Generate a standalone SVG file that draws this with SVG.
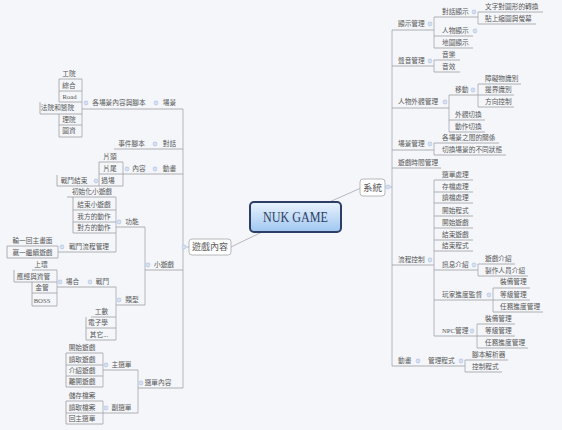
<svg xmlns="http://www.w3.org/2000/svg" width="562" height="430" viewBox="0 0 562 430">
<defs>
<linearGradient id="rg" x1="0" y1="0" x2="0" y2="1"><stop offset="0" stop-color="#eaf3fd"/><stop offset="1" stop-color="#9fc6f0"/></linearGradient>
<g id="mk"><circle r="2.4" fill="#c4d2ea"/><path d="M-1.3 0H1.3" stroke="#fff" stroke-width="0.7"/></g>
<style>
.t{font-family:"Liberation Serif","Noto Sans CJK TC","Noto Sans CJK SC",serif;font-size:6.7px;fill:#585858}
.m{text-anchor:middle}
.u{fill:none;stroke:#9e9e9e;stroke-width:0.8}
.c{fill:none;stroke:#a8a8b0;stroke-width:0.8}
.b{fill:#fff;stroke:#a8a8a8;stroke-width:0.8}
.bt{font-family:"Noto Sans CJK TC","Noto Sans CJK SC","Liberation Sans",sans-serif;fill:#595959;text-anchor:middle}
</style>
</defs>
<rect width="562" height="430" fill="#f4f6fa"/>

<g id="connectors" class="c">
<path d="M327 203L361 188"/>
<path d="M262 232L231 247"/>
<path d="M183 247H189"/>
<path d="M385 187H392"/>
<path d="M183 109V388"/>
<path d="M82 79V137"/>
<path d="M123 162V186"/>
<path d="M145 227V305"/>
<path d="M116 197V252"/>
<path d="M58 246V258"/>
<path d="M116 287V340"/>
<path d="M57 270V306"/>
<path d="M138 370V413"/>
<path d="M103 353V387"/>
<path d="M103 401V424"/>
<path d="M392 30V366"/>
<path d="M434 17V48"/>
<path d="M478 12V24"/>
<path d="M434 60V72"/>
<path d="M449 95V132"/>
<path d="M478 84V107"/>
<path d="M434 143V155"/>
<path d="M434 180V336"/>
<path d="M478 264V276"/>
<path d="M493 288V312"/>
<path d="M477 324V348"/>
<path d="M465 360V372"/>
</g>

<g id="root">
<rect x="250" y="202" width="91" height="30" rx="4" fill="url(#rg)" stroke="#2d3f66" stroke-width="2"/>
<text x="295.5" y="222" font-family="Liberation Serif,serif" font-size="15" fill="#2d3f66" text-anchor="middle" textLength="65" lengthAdjust="spacingAndGlyphs">NUK GAME</text>
</g>
<g id="youxineirong">
<rect class="b" x="189" y="239" width="42" height="16" rx="3"/>
<text class="bt" x="210" y="250.3" font-size="9">遊戲內容</text>
<use href="#mk" x="184" y="247"/>
</g>
<g id="xitong">
<rect class="b" x="360" y="179" width="25" height="17" rx="3"/>
<text class="bt" x="372.5" y="191.3" font-size="9.5">系統</text>
<use href="#mk" x="388" y="187"/>
</g>

<g id="n-changjing"><text class="t m" x="169.5" y="105.4">場景</text><path class="u" d="M159 109H183"/><use href="#mk" x="156" y="103"/></g>
<g id="n-gecj"><text class="t m" x="119" y="105.4">各場景內容與腳本</text><path class="u" d="M82 109H159"/><use href="#mk" x="86" y="103"/></g>
<g id="n-gongyuan"><text class="t m" x="69" y="76.4">工院</text><path class="u" d="M59 79H82"/></g>
<g id="n-zonghe"><text class="t m" x="69" y="88.4">綜合</text><path class="u" d="M59 79V91H82"/></g>
<g id="n-road"><text class="t m" x="69.5" y="99.4">Road</text><path class="u" d="M59 91V102H82"/></g>
<g id="n-fayuan"><text class="t m" x="57.5" y="110.4">法院和醫院</text><path class="u" d="M40 102V114H82"/></g>
<g id="n-liyuan"><text class="t m" x="69" y="122.4">理院</text><path class="u" d="M59 114V125H82"/></g>
<g id="n-tuzi"><text class="t m" x="69" y="133.4">圖資</text><path class="u" d="M59 125V137H82"/></g>

<g id="n-duihua"><text class="t m" x="169.5" y="146.4">對話</text><path class="u" d="M158 149H183"/><use href="#mk" x="155" y="144"/></g>
<g id="n-shijian"><text class="t m" x="131.5" y="146.4">事件腳本</text><path class="u" d="M114 149H158"/></g>
<g id="n-donghua"><text class="t m" x="169.5" y="171.4">動畫</text><path class="u" d="M158 174H183"/><use href="#mk" x="155" y="169"/></g>
<g id="n-neirong"><text class="t m" x="139" y="171.4">內容</text><path class="u" d="M123 174H158"/><use href="#mk" x="127" y="169"/></g>
<g id="n-piantou"><text class="t m" x="110" y="159.4">片頭</text><path class="u" d="M99 162H123"/></g>
<g id="n-pianwei"><text class="t m" x="110" y="171.4">片尾</text><path class="u" d="M99 162V174H123"/></g>
<g id="n-guochang"><text class="t m" x="108" y="183.4">過場</text><path class="u" d="M99 174V186H123"/><use href="#mk" x="96" y="181"/></g>
<g id="n-zhandoujieshu"><text class="t m" x="74" y="183.4">戰鬥結束</text><path class="u" d="M57 175V186H99"/></g>

<g id="n-xiaoyouxi"><text class="t m" x="164" y="267.4">小遊戲</text><path class="u" d="M145 270H183"/><use href="#mk" x="148" y="265"/></g>
<g id="n-gongneng"><text class="t m" x="132" y="224.4">功能</text><path class="u" d="M116 227H145"/><use href="#mk" x="119" y="222"/></g>
<g id="n-chushihua"><text class="t m" x="92" y="194.4">初始化小遊戲</text><path class="u" d="M67 197H116"/></g>
<g id="n-jieshuxiao"><text class="t m" x="94" y="207.4">結束小遊戲</text><path class="u" d="M73 197V210H116"/></g>
<g id="n-wofang"><text class="t m" x="94" y="219.4">我方的動作</text><path class="u" d="M73 210V222H116"/></g>
<g id="n-duifang"><text class="t m" x="94" y="230.4">對方的動作</text><path class="u" d="M73 222V233H116"/></g>
<g id="n-liucheng"><text class="t m" x="89" y="249.4">戰鬥流程管理</text><path class="u" d="M58 252H116"/><use href="#mk" x="62" y="247"/></g>
<g id="n-shuyi"><text class="t m" x="32.5" y="243.4">輸一回主畫面</text><path class="u" d="M7 246H58"/></g>
<g id="n-yingyi"><text class="t m" x="32.5" y="255.4">贏一繼續遊戲</text><path class="u" d="M7 246V258H58"/></g>
<g id="n-leixing"><text class="t m" x="132" y="302.4">類型</text><path class="u" d="M116 305H145"/><use href="#mk" x="119" y="300"/></g>
<g id="n-zhandou"><text class="t m" x="102.5" y="284.4">戰鬥</text><path class="u" d="M93 287H116"/><use href="#mk" x="90" y="282"/></g>
<g id="n-changhe"><text class="t m" x="72.5" y="284.4">場合</text><path class="u" d="M57 287H93"/><use href="#mk" x="60" y="282"/></g>
<g id="n-shanghuan"><text class="t m" x="41" y="267.4">上環</text><path class="u" d="M32 270H57"/></g>
<g id="n-yingjing"><text class="t m" x="33.5" y="279.4">應經與資管</text><path class="u" d="M14 270V282H57"/></g>
<g id="n-jinguan"><text class="t m" x="42" y="290.4">金管</text><path class="u" d="M32 282V293H57"/></g>
<g id="n-boss"><text class="t m" x="42" y="303.4">BOSS</text><path class="u" d="M32 293V306H57"/></g>
<g id="n-gongshu"><text class="t m" x="101.5" y="314.4">工數</text><path class="u" d="M91 317H116"/></g>
<g id="n-dianzi"><text class="t m" x="98" y="325.4">電子學</text><path class="u" d="M86 317V328H116"/></g>
<g id="n-qita"><text class="t m" x="99" y="337.4">其它...</text><path class="u" d="M86 328V340H116"/></g>

<g id="n-xuandan"><text class="t m" x="158" y="385.4">選單內容</text><path class="u" d="M138 388H183"/><use href="#mk" x="141" y="383"/></g>
<g id="n-zhuxuandan"><text class="t m" x="121.5" y="367.4">主選單</text><path class="u" d="M103 370H138"/><use href="#mk" x="106" y="365"/></g>
<g id="n-kaishiyouxi"><text class="t m" x="82" y="350.4">開始遊戲</text><path class="u" d="M66 353H103"/></g>
<g id="n-duquyouxi"><text class="t m" x="82" y="362.4">讀取遊戲</text><path class="u" d="M66 353V365H103"/></g>
<g id="n-jieshaoyouxi"><text class="t m" x="82" y="373.4">介紹遊戲</text><path class="u" d="M66 365V376H103"/></g>
<g id="n-likaiyouxi"><text class="t m" x="82" y="384.4">離開遊戲</text><path class="u" d="M66 376V387H103"/></g>
<g id="n-fuxuandan"><text class="t m" x="121.5" y="410.4">副選單</text><path class="u" d="M103 413H138"/><use href="#mk" x="106" y="408"/></g>
<g id="n-chucun"><text class="t m" x="82" y="398.4">儲存檔案</text><path class="u" d="M66 401H103"/></g>
<g id="n-duqudangan"><text class="t m" x="82" y="410.4">讀取檔案</text><path class="u" d="M66 401V413H103"/></g>
<g id="n-huizhu"><text class="t m" x="82" y="421.4">回主選單</text><path class="u" d="M66 413V424H103"/></g>

<g id="r-xianshi"><text class="t" x="398" y="26.4">顯示管理</text><path class="u" d="M392 30H434"/><use href="#mk" x="430" y="24"/></g>
<g id="r-duihuaxianshi"><text class="t" x="442" y="14.4">對話顯示</text><path class="u" d="M434 17H478"/><use href="#mk" x="474" y="12"/></g>
<g id="r-wenzi"><text class="t" x="485" y="9.4">文字對圖形的轉換</text><path class="u" d="M478 12H543"/></g>
<g id="r-tieshang"><text class="t" x="485" y="21.4">貼上縮圖與螢幕</text><path class="u" d="M478 24H536"/></g>
<g id="r-renwuxianshi"><text class="t" x="442" y="33.4">人物顯示</text><path class="u" d="M434 36H473"/><use href="#mk" x="475" y="31"/></g>
<g id="r-ditu"><text class="t" x="442" y="45.4">地圖顯示</text><path class="u" d="M434 48H473"/></g>
<g id="r-shengyin"><text class="t" x="398" y="63.4">聲音管理</text><path class="u" d="M392 66H434"/><use href="#mk" x="430" y="61"/></g>
<g id="r-yinyue"><text class="t" x="442" y="57.4">音樂</text><path class="u" d="M434 60H460"/></g>
<g id="r-yinxiao"><text class="t" x="442" y="69.4">音效</text><path class="u" d="M434 72H460"/></g>
<g id="r-waiguan"><text class="t" x="398" y="104.4">人物外觀管理</text><path class="u" d="M392 108H449"/><use href="#mk" x="445" y="102"/></g>
<g id="r-yidong"><text class="t" x="455" y="92.4">移動</text><path class="u" d="M449 95H478"/><use href="#mk" x="473" y="90"/></g>
<g id="r-zhangai"><text class="t" x="485" y="81.4">障礙物識別</text><path class="u" d="M478 84H521"/></g>
<g id="r-bianjie"><text class="t" x="485" y="92.4">邊界識別</text><path class="u" d="M478 95H514"/></g>
<g id="r-fangxiang"><text class="t" x="485" y="104.4">方向控制</text><path class="u" d="M478 107H514"/></g>
<g id="r-waiguanqiehuan"><text class="t" x="455" y="117.4">外觀切換</text><path class="u" d="M449 120H485"/></g>
<g id="r-dongzuo"><text class="t" x="455" y="129.4">動作切換</text><path class="u" d="M449 132H485"/></g>
<g id="r-changjing"><text class="t" x="398" y="146.4">場景管理</text><path class="u" d="M392 150H434"/><use href="#mk" x="430" y="144"/></g>
<g id="r-guanxi"><text class="t" x="442" y="140.4">各場景之間的關係</text><path class="u" d="M434 143H499"/></g>
<g id="r-qiehuan"><text class="t" x="442" y="152.4">切換場景的不同狀態</text><path class="u" d="M434 155H506"/></g>
<g id="r-shijian"><text class="t" x="398" y="165.4">遊戲時間管理</text><path class="u" d="M392 168H441"/></g>
<g id="r-liucheng"><text class="t" x="398" y="262.4">流程控制</text><path class="u" d="M392 265H434"/><use href="#mk" x="430" y="260"/></g>
<g id="r-xuandan"><text class="t" x="442" y="177.4">選單處理</text><path class="u" d="M434 180H473"/></g>
<g id="r-cundang"><text class="t" x="442" y="189.4">存檔處理</text><path class="u" d="M434 192H473"/></g>
<g id="r-dudang"><text class="t" x="442" y="200.4">讀檔處理</text><path class="u" d="M434 203H473"/></g>
<g id="r-kaishichengshi"><text class="t" x="442" y="213.4">開始程式</text><path class="u" d="M434 216H473"/></g>
<g id="r-kaishiyouxi"><text class="t" x="442" y="225.4">開始遊戲</text><path class="u" d="M434 228H473"/></g>
<g id="r-jieshuyouxi"><text class="t" x="442" y="237.4">結束遊戲</text><path class="u" d="M434 240H473"/></g>
<g id="r-jieshuchengshi"><text class="t" x="442" y="248.4">結束程式</text><path class="u" d="M434 251H473"/></g>
<g id="r-xunxi"><text class="t" x="442" y="267.4">訊息介紹</text><path class="u" d="M434 270H478"/><use href="#mk" x="474" y="265"/></g>
<g id="r-youxijieshao"><text class="t" x="485" y="261.4">遊戲介紹</text><path class="u" d="M478 264H515"/></g>
<g id="r-zhizuo"><text class="t" x="485" y="273.4">製作人員介紹</text><path class="u" d="M478 276H528"/></g>
<g id="r-wanjia"><text class="t" x="442" y="297.4">玩家進度監督</text><path class="u" d="M434 300H493"/><use href="#mk" x="489" y="295"/></g>
<g id="r-zhuangbei1"><text class="t" x="500" y="284.4">裝備管理</text><path class="u" d="M493 288H530"/></g>
<g id="r-dengji1"><text class="t" x="500" y="297.4">等級管理</text><path class="u" d="M493 300H530"/></g>
<g id="r-renwu1"><text class="t" x="500" y="309.4">任務進度管理</text><path class="u" d="M493 312H543"/></g>
<g id="r-npc"><text class="t" x="442" y="333.4">NPC管理</text><path class="u" d="M434 336H477"/><use href="#mk" x="472" y="331"/></g>
<g id="r-zhuangbei2"><text class="t" x="485" y="321.4">裝備管理</text><path class="u" d="M477 324H515"/></g>
<g id="r-dengji2"><text class="t" x="485" y="333.4">等級管理</text><path class="u" d="M477 336H515"/></g>
<g id="r-renwu2"><text class="t" x="485" y="345.4">任務進度管理</text><path class="u" d="M477 348H528"/></g>
<g id="r-donghua"><text class="t" x="398" y="363.4">動畫</text><path class="u" d="M392 366H418"/><use href="#mk" x="418" y="361"/></g>
<g id="r-guanli"><text class="t" x="428" y="363.4">管理程式</text><path class="u" d="M418 366H465"/><use href="#mk" x="461" y="361"/></g>
<g id="r-jiaoben"><text class="t" x="472" y="357.4">腳本解析器</text><path class="u" d="M465 360H508"/></g>
<g id="r-kongzhi"><text class="t" x="472" y="369.4">控制程式</text><path class="u" d="M465 372H502"/></g>
</svg>
